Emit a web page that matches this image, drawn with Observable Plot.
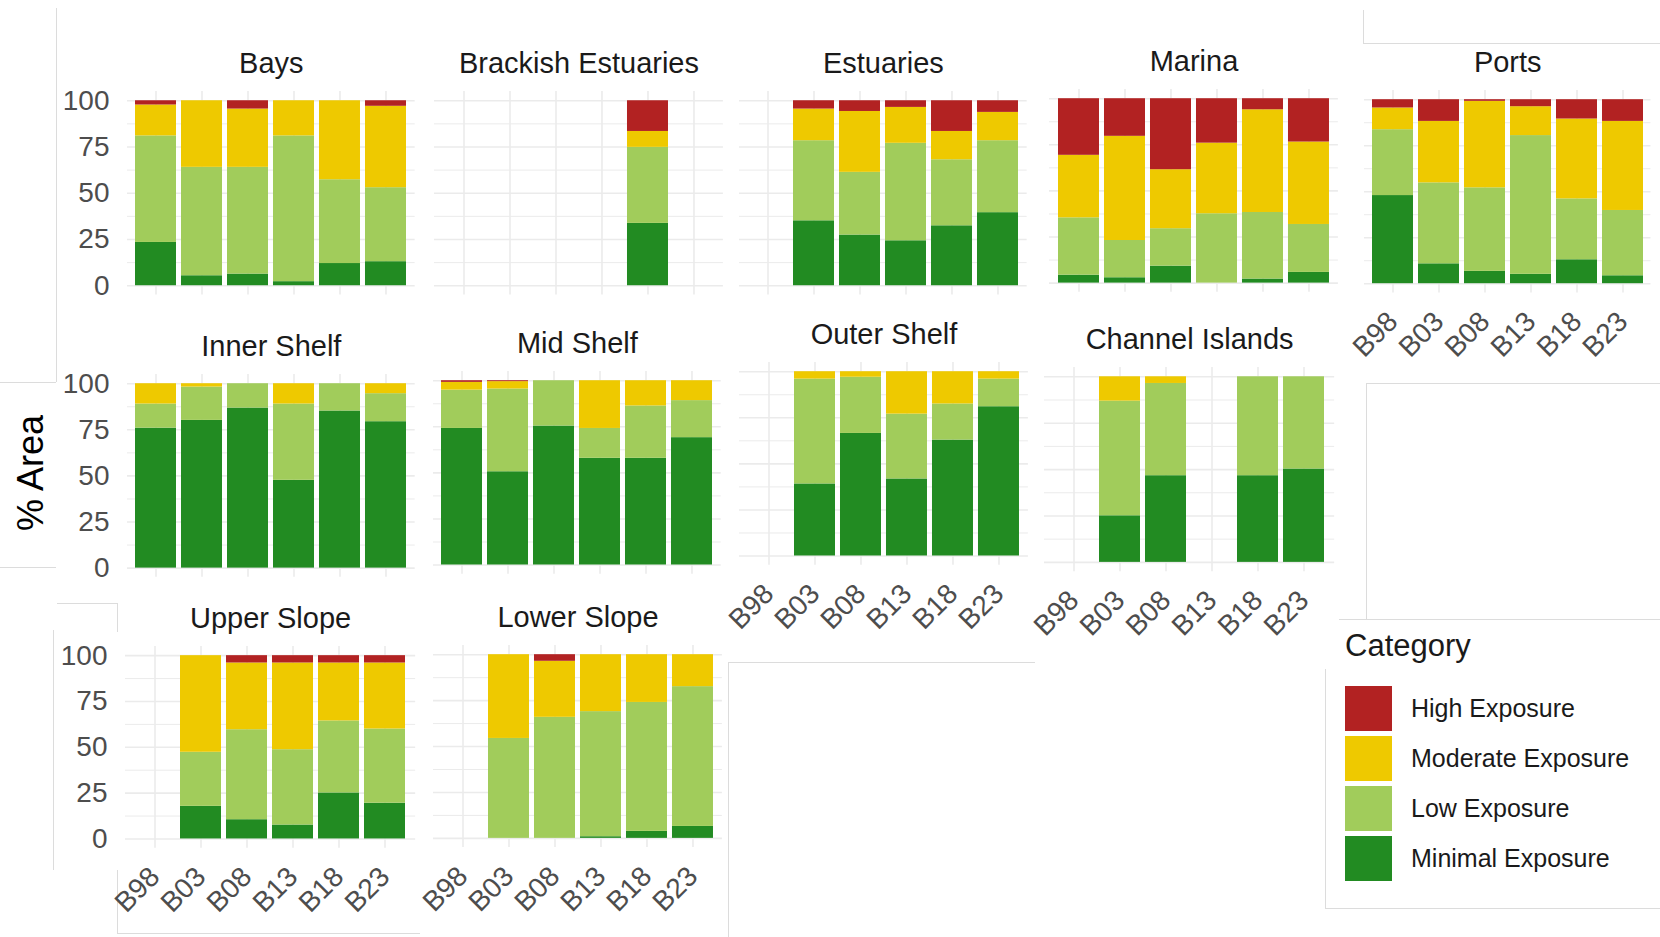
<!DOCTYPE html>
<html><head><meta charset="utf-8">
<script src="https://cdn.jsdelivr.net/npm/d3@7"></script>
<script src="https://cdn.jsdelivr.net/npm/@observablehq/plot@0.6"></script>
<style>
body{margin:0;background:#fff;font-family:"Liberation Sans",Arial,sans-serif;}
#root{position:relative;width:1660px;height:937px;overflow:hidden;background:#fff;}
.panel{position:absolute;}
.line{position:absolute;background:#dcdcdc;}
.ytitle{position:absolute;left:31px;top:473px;transform:translate(-50%,-50%) rotate(-90deg);font-size:36px;color:#000;white-space:nowrap;}
.legend{position:absolute;left:1345px;top:628px;color:#1a1a1a;}
.legend .ttl{font-size:31px;line-height:36px;margin-bottom:19px;}
.legend .row{display:flex;align-items:center;height:50px;}
.legend .sw{width:47px;height:45px;margin-right:19px;}
.legend .lab{font-size:25px;}
</style></head><body><div id="root"></div>
<script>
// ---- data ----
const years = ["B98","B03","B08","B13","B18","B23"];
const categories = ["Minimal Exposure","Low Exposure","Moderate Exposure","High Exposure"]; // stacking order, bottom to top
const legendOrder = ["High Exposure","Moderate Exposure","Low Exposure","Minimal Exposure"];
const categoryColors = ["#228B22","#A1CC5B","#EEC900","#B22222"];
const habitats = ["Bays","Brackish Estuaries","Estuaries","Marina","Ports","Inner Shelf","Mid Shelf","Outer Shelf","Channel Islands","Upper Slope","Lower Slope"];
const yTicks = [0,25,50,75,100];
const yGridValues = [0,12.5,25,37.5,50,62.5,75,87.5,100];

// % area per habitat (rows) and survey year (columns); null = not surveyed
const minimalPct = [
  [23.4,5.4,6.3,2.2,12,13],
  [null,null,null,null,33.7,null],
  [null,35.1,27.4,24.3,32.4,39.5],
  [4.3,2.9,9.2,0,2.2,5.8],
  [47.9,10.8,6.7,5.1,13,4.3],
  [75.9,80.1,86.8,47.6,85.2,79.4],
  [74.1,50.6,75.4,57.9,57.9,69.1],
  [null,39.1,66.5,41.8,62.9,81],
  [null,25.1,46.7,null,46.7,50.3],
  [null,17.8,10.5,7.6,25.1,19.5],
  [null,0,0,0.9,3.8,6.5]
];
const lowPct = [
  [57.6,58.6,57.7,78.8,45.3,40],
  [null,null,null,null,41.1,null],
  [null,43.3,33.9,52.7,35.7,38.9],
  [31.1,20.2,20.3,37.6,36.1,26],
  [35.8,44,45.4,75.4,33.1,35.5],
  [13.1,18.1,13.2,41.4,14.8,15.2],
  [20.8,44.9,24.6,16.2,28.4,20.1],
  [null,56.9,30.5,35.2,19.6,15],
  [null,61.8,49.7,null,53.3,49.7],
  [null,29.5,49.1,41.1,39.3,40.5],
  [null,54.4,65.9,68.1,70.2,76.1]
];
const moderatePct = [
  [16.7,36,31.5,19,42.7,44],
  [null,null,null,null,8.6,null],
  [null,17.1,32.9,19.4,15.3,15.3],
  [33.9,56.5,32,38.3,55.7,44.7],
  [11.8,33.4,47,15.7,43.4,48.4],
  [11,1.8,0,11,0,5.4],
  [4.2,4,0,25.9,13.7,10.8],
  [null,4,3,23,17.5,4],
  [null,13.1,3.6,null,0,0],
  [null,52.7,36.4,47.3,31.6,36],
  [null,45.6,30.5,31,26,17.4]
];
const highPct = [
  [2.3,0,4.5,0,0,3],
  [null,null,null,null,16.6,null],
  [null,4.5,5.8,3.6,16.6,6.3],
  [30.7,20.4,38.5,24.1,6,23.5],
  [4.5,11.8,0.9,3.8,10.5,11.8],
  [0,0,0,0,0,0],
  [0.9,0.5,0,0,0,0],
  [null,0,0,0,0,0],
  [null,0,0,null,0,0],
  [null,0,4,4,4,4],
  [null,0,3.6,0,0,0]
];

// ---- layout (collage positions of each panel, in page pixels) ----
const panelLayout = [
  {cx0:155, cx5:387, y100:100, y0:285, yAxis:true},
  {cx0:462, cx5:695, y100:100, y0:285},
  {cx0:767, cx5:999, y100:100, y0:285},
  {cx0:1077, cx5:1310, y100:98.3, y0:282.7},
  {cx0:1392, cx5:1623, y100:99, y0:283, xAxis:true},
  {cx0:155, cx5:387, y100:383.3, y0:567.7, yAxis:true},
  {cx0:461, cx5:693, y100:380.7, y0:565},
  {cx0:767, cx5:1000, y100:371.7, y0:556, xAxis:true},
  {cx0:1072, cx5:1306, y100:376.7, y0:562.3, xAxis:true},
  {cx0:153, cx5:387, y100:655, y0:838.3, yAxis:true, xAxis:true},
  {cx0:461, cx5:694, y100:654, y0:837.7, xAxis:true}
];

const root = document.getElementById("root");

// faint borders left over from the original collage
const borders = [
  [56,8,1,374],[0,382,56,1],[0,567,56,1],[53,630,1,240],[57,603,60,1],[117,603,1,29],[117,870,1,64],[117,933,303,1],
  [1363,10,1,33],[1363,43,297,1],[1366,383,294,1],[1366,383,1,236],[1339,619,321,1],
  [728,662,1,275],[728,662,307,1],[1325,669,1,240],[1325,908,335,1]
];
for (const [l,t,w,h] of borders) {
  const d = document.createElement("div");
  d.className = "line";
  Object.assign(d.style,{left:l+"px",top:t+"px",width:w+"px",height:h+"px"});
  root.appendChild(d);
}

const seriesArrays = [minimalPct, lowPct, moderatePct, highPct];

habitats.forEach((habitat, h) => {
  const L = panelLayout[h];
  const step = (L.cx5 - L.cx0) / 5;
  const xl = L.cx0 - 0.6 * step, xr = L.cx5 + 0.6 * step;
  const ppu = (L.y0 - L.y100) / 100;
  const yTop = L.y100 - 5 * ppu, yBot = L.y0 + 5 * ppu;
  const ml = 110, mr = 10, mt = 55, mb = 110;
  const width = ml + (xr - xl) + mr;
  const height = mt + (yBot - yTop) + mb;

  const rows = [];
  years.forEach((yr, j) => {
    categories.forEach((cat, c) => {
      const v = seriesArrays[c][h][j];
      if (v != null && v > 0) rows.push({year: yr, category: cat, value: v});
    });
  });

  const chart = Plot.plot({
    width, height,
    marginLeft: ml, marginRight: mr, marginTop: mt, marginBottom: mb,
    style: {background: "transparent", overflow: "visible", maxWidth: "none", fontFamily: '"Liberation Sans", Arial, sans-serif', fontSize: "28px", color: "#4D4D4D"},
    x: {domain: years, type: "band", paddingInner: 0.1, paddingOuter: 0.15, align: 0.5,
        axis: L.xAxis ? "bottom" : null, tickSize: 0, tickPadding: 24, tickRotate: -45, label: null},
    y: {domain: [-5, 105], axis: L.yAxis ? "left" : null, ticks: yTicks, tickSize: 0, tickPadding: 18, label: null, tickFormat: d => String(d)},
    color: {domain: categories, range: categoryColors},
    marks: [
      Plot.ruleY(yGridValues, {stroke: "#EBEBEB", strokeWidth: d => d % 25 === 0 ? 1.6 : 1}),
      Plot.ruleX(years, {x: d => d, stroke: "#EBEBEB", strokeWidth: 1.6}),
      Plot.barY(rows, {x: "year", y: "value", fill: "category", order: categories}),
      Plot.text([habitat], {frameAnchor: "top", dy: -18, lineAnchor: "bottom", fontSize: 29, fill: "#1A1A1A", text: d => d})
    ]
  });
  const div = document.createElement("div");
  div.className = "panel";
  div.style.left = (xl - ml) + "px";
  div.style.top = (yTop - mt) + "px";
  div.appendChild(chart);
  root.appendChild(div);
});

// y axis title
const yt = document.createElement("div");
yt.className = "ytitle";
yt.textContent = "% Area";
root.appendChild(yt);

// legend
const lg = document.createElement("div");
lg.className = "legend";
lg.innerHTML = `<div class="ttl">Category</div>` + legendOrder.map(cat =>
  `<div class="row"><div class="sw" style="background:${categoryColors[categories.indexOf(cat)]}"></div><div class="lab">${cat}</div></div>`).join("");
root.appendChild(lg);
</script>
</body></html>
